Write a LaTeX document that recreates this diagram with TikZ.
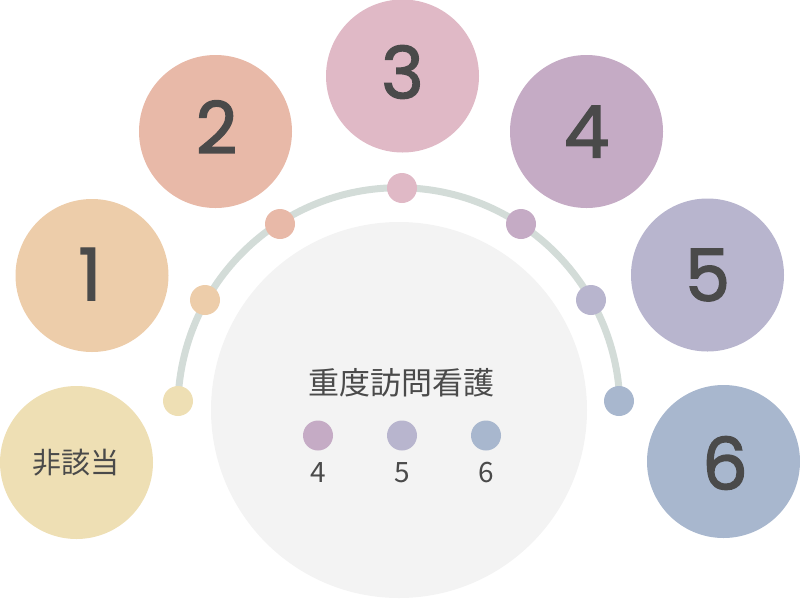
\documentclass[tikz,border=0pt]{standalone}
\usepackage{fontspec}
\newfontfamily\numfont{Poppins}[FakeBold=2]
\newfontfamily\cjk{Noto Sans CJK JP}
\definecolor{cna}{HTML}{EEDFB4}
\definecolor{cone}{HTML}{EDCDAA}
\definecolor{ctwo}{HTML}{E8B9A8}
\definecolor{cthree}{HTML}{E0B9C6}
\definecolor{cfour}{HTML}{C5ABC5}
\definecolor{cfive}{HTML}{B8B5CE}
\definecolor{csix}{HTML}{A8B7CE}
\definecolor{arcgray}{HTML}{D3DCD8}
\definecolor{bggray}{HTML}{F3F3F3}
\definecolor{txt}{HTML}{4A4A4A}
\tikzset{
  numf/.style={font=\numfont\fontsize{72}{72}\selectfont},
  big/.style={circle, inner sep=0pt, minimum size=153pt, text=txt, numf},
  dot/.style={circle, inner sep=0pt, minimum size=30pt},
  arcline/.style={draw=arcgray, line width=7pt},
  lbl/.style={inner sep=0pt, text=txt},
  small/.style={lbl, font=\cjk\fontsize{28}{28}\selectfont},
}
\begin{document}
\begin{tikzpicture}[x=1pt, y=-1pt]
\useasboundingbox (0,0) rectangle (800,598);
% central gray disc
\node[circle, fill=bggray, inner sep=0pt, minimum size=376pt] (core) at (399,410) {};
% arc with dots
\coordinate (a0) at (178,401);
\draw[arcline] (a0) arc[start angle=178, end angle=2, radius=221pt] coordinate (a6);
\node[dot, fill=cna]    (d0) at (a0) {};
\node[dot, fill=cone]   (d1) at (205,300) {};
\node[dot, fill=ctwo]   (d2) at (280,224) {};
\node[dot, fill=cthree] (d3) at (402,188) {};
\node[dot, fill=cfour]  (d4) at (521,224) {};
\node[dot, fill=cfive]  (d5) at (591,300) {};
\node[dot, fill=csix]   (d6) at (619,401) {};
% big circles
\node[big, fill=cna] (na) at (76.5,462.5) {};
\node[lbl, font=\cjk\fontsize{29}{29}\selectfont] (natext) at (75.5,462.5) {非該当};
\node[big, fill=cone]   (n1) at (92,275.5) {};
\node[lbl, numf] (t1) at (90,274) {1};
\node[big, fill=ctwo]   (n2) at (215.5,131.5) {};
\node[lbl, numf] (t2) at (216.5,127) {2};
\node[big, fill=cthree] (n3) at (402.5,76) {};
\node[lbl, numf] (t3) at (402.5,72) {3};
\node[big, fill=cfour]  (n4) at (586.5,131.5) {4};
\node[big, fill=cfive]  (n5) at (707.5,275) {5};
\node[big, fill=csix]   (n6) at (723.5,461.5) {};
\node[lbl, numf] (t6) at (725,463) {6};
% center content
\node[lbl, font=\cjk\fontsize{31}{31}\selectfont] (title) at (401,382.5) {重度訪問看護};
\node[dot, fill=cfour] (k4) at (318,435.5) {};
\node[dot, fill=cfive] (k5) at (402,435.5) {};
\node[dot, fill=csix]  (k6) at (486,435.5) {};
\node[small] (l4) at (318,472.5) {4};
\node[small] (l5) at (402,472.5) {5};
\node[small] (l6) at (486,472.5) {6};
\end{tikzpicture}
\end{document}
